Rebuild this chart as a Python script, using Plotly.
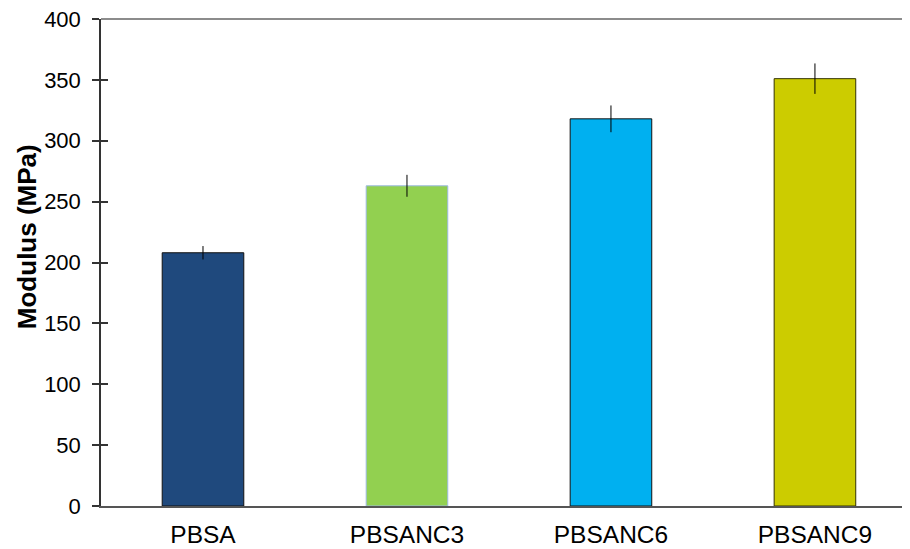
import plotly.graph_objects as go

categories = ["PBSA", "PBSANC3", "PBSANC6", "PBSANC9"]
modulus = [208, 263, 318, 351]
errors = [5.5, 9, 11, 12.5]
y_ticks = [0, 50, 100, 150, 200, 250, 300, 350, 400]
y_title = "<b>Modulus (MPa)</b>"

fill_colors = ["#1F497D", "#92D050", "#00B0F0", "#CCCC00"]
line_colors = ["#111111", "#9DB9E3", "#111111", "#333300"]

fig = go.Figure()
fig.add_trace(go.Bar(
    x=categories, y=modulus, width=0.4,
    marker=dict(color=fill_colors, line=dict(color=line_colors, width=1)),
    error_y=dict(type="data", array=errors, color="#000000", thickness=1, width=0),
    showlegend=False,
))
# invisible trace on overlay axis for inside tick marks
fig.add_trace(go.Scatter(x=categories, y=modulus, yaxis="y2", mode="none",
                         showlegend=False, hoverinfo="skip"))

font = "Liberation Sans, Arial, sans-serif"
fig.update_layout(
    width=902, height=541,
    margin=dict(l=93, r=0, t=11, b=43),
    plot_bgcolor="white", paper_bgcolor="white",
    font=dict(family=font, size=22, color="#000000"),
    bargap=0.6,
    xaxis=dict(
        range=[-0.5, 3.466], showline=True, linecolor="#555555", linewidth=1.5,
        ticks="", showgrid=False, zeroline=False, automargin=False,
        tickfont=dict(size=24.5), ticklabelstandoff=6,
    ),
    yaxis=dict(
        range=[0, 400], tickvals=y_ticks, showline=True, linecolor="#333333",
        linewidth=1.5, ticks="outside", ticklen=7, tickcolor="#333333",
        tickwidth=1.5, showgrid=False, zeroline=False, ticklabelstandoff=7,
        automargin=False, tickfont=dict(size=22), ticklabeloverflow="allow",
    ),
    yaxis2=dict(
        range=[0, 400], tickvals=y_ticks, overlaying="y", side="left",
        ticks="inside", ticklen=7, tickcolor="#333333", tickwidth=1.5,
        showticklabels=False, showgrid=False, zeroline=False, showline=False,
        automargin=False,
    ),
    shapes=[dict(type="line", xref="paper", yref="paper", x0=0, x1=1, y0=1, y1=1,
                 line=dict(color="#8C8C8C", width=2))],
    annotations=[dict(text=y_title, textangle=-90, xref="paper", yref="paper",
                      x=0, y=0.552, xanchor="center", yanchor="middle",
                      xshift=-74, showarrow=False, font=dict(size=26))],
)

fig.write_html("out.html")
